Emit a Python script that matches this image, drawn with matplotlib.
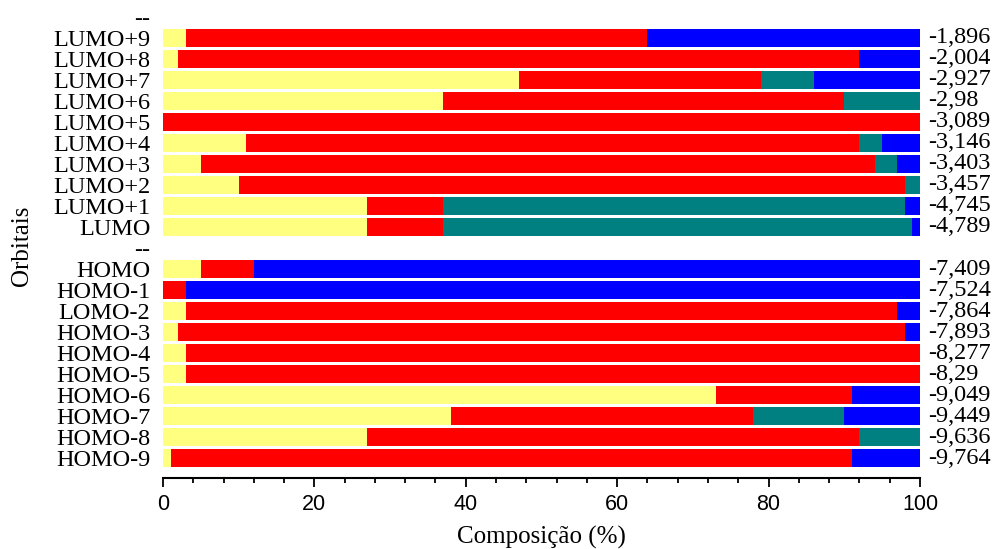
import numpy as np
import matplotlib.pyplot as plt

# rows from top to bottom; "--" rows are empty separators
orbitais = ["--", "LUMO+9", "LUMO+8", "LUMO+7", "LUMO+6", "LUMO+5", "LUMO+4",
            "LUMO+3", "LUMO+2", "LUMO+1", "LUMO", "--",
            "HOMO", "HOMO-1", "LOMO-2", "HOMO-3", "HOMO-4", "HOMO-5",
            "HOMO-6", "HOMO-7", "HOMO-8", "HOMO-9"]

energias = ["", "-1,896", "-2,004", "-2,927", "-2,98", "-3,089", "-3,146",
            "-3,403", "-3,457", "-4,745", "-4,789", "",
            "-7,409", "-7,524", "-7,864", "-7,893", "-8,277", "-8,29",
            "-9,049", "-9,449", "-9,636", "-9,764"]

# composition (%) of each fragment
amarelo = [0, 3, 2, 47, 37, 0, 11, 5, 10, 27, 27, 0,
           5, 0, 3, 2, 3, 3, 73, 38, 27, 1]
vermelho = [0, 61, 90, 32, 53, 100, 81, 89, 88, 10, 10, 0,
            7, 3, 94, 96, 97, 97, 18, 40, 65, 90]
verde = [0, 0, 0, 7, 10, 0, 3, 3, 2, 61, 62, 0,
         0, 0, 0, 0, 0, 0, 0, 12, 8, 0]
azul = [0, 36, 8, 14, 0, 0, 5, 3, 0, 2, 1, 0,
        88, 97, 3, 2, 0, 0, 9, 10, 0, 9]

cores = ["#FFFF80", "#FF0000", "#008080", "#0000FF"]

fig = plt.figure(figsize=(10.03, 5.49), dpi=100)
ax = fig.add_axes([0.1625, 0.1293, 0.7547, 0.8590])

y = np.arange(len(orbitais))
left = np.zeros(len(orbitais))
for serie, cor in zip([amarelo, vermelho, verde, azul], cores):
    vals = np.array(serie, dtype=float)
    ax.barh(y, vals, left=left, height=0.86, color=cor, linewidth=0)
    left += vals

ax.set_xlim(0, 100)
ax.set_ylim(len(orbitais) - 0.05, -0.5)

ax.set_yticks(y)
ax.set_yticklabels(orbitais, family="Liberation Serif", fontsize=17.5)
ax.tick_params(axis="y", length=0, pad=9)

ax.set_xticks(np.arange(0, 101, 20))
ax.set_xticks(np.arange(0, 101, 4), minor=True)
ax.tick_params(axis="x", which="major", direction="out", length=6.5, width=1.3,
               labelsize=15.5, pad=5)
ax.tick_params(axis="x", which="minor", direction="out", length=3.6, width=1.3)
for lab in ax.get_xticklabels():
    lab.set_family("Liberation Sans")

for s in ["top", "right", "left"]:
    ax.spines[s].set_visible(False)
ax.spines["bottom"].set_linewidth(1.5)

for yi, e in zip(y, energias):
    if e:
        ax.text(1.0106, yi, e, transform=ax.get_yaxis_transform(),
                ha="left", va="center", family="Liberation Serif", fontsize=17.5)

ax.set_xlabel("Composição (%)", family="Liberation Serif", fontsize=18, labelpad=8)
fig.text(0.022, 0.553, "Orbitais", rotation=90, ha="center", va="center",
         family="Liberation Serif", fontsize=18)

fig.savefig("out.png", dpi=100)
